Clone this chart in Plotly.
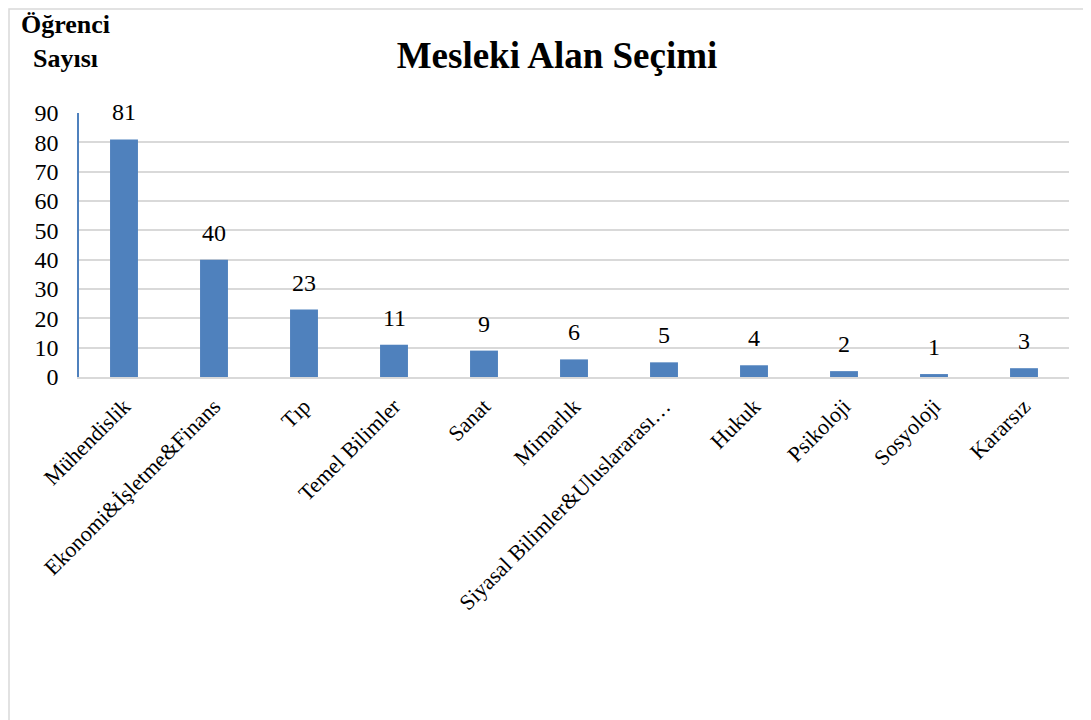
import plotly.graph_objects as go

categories = ["Mühendislik", "Ekonomi&İşletme&Finans", "Tıp", "Temel Bilimler", "Sanat",
              "Mimarlık", "Siyasal Bilimler&Uluslararası…", "Hukuk", "Psikoloji",
              "Sosyoloji", "Kararsız"]
counts = [81, 40, 23, 11, 9, 6, 5, 4, 2, 1, 3]
y_ticks = [0, 10, 20, 30, 40, 50, 60, 70, 80, 90]

# the page body adds an 8px margin, so the figure itself is a bit smaller
OFF = 8
W, H = 1091 - OFF, 720 - OFF
L, R, T, B = 79 - OFF, 22, 113 - OFF, 343
pw, ph = W - L - R, H - T - B
serif = "Liberation Serif"

fig = go.Figure(go.Bar(
    x=categories, y=counts,
    marker=dict(color="#4F81BD", line=dict(width=0)),
    cliponaxis=False,
))

# value labels floating a bit above each bar, like Excel does
labels = [dict(x=c, y=v, text=str(v), xref="x", yref="y", showarrow=False,
               yanchor="bottom", yshift=12,
               font=dict(family=serif, size=24, color="#000000"))
          for c, v in zip(categories, counts)]

labels.append(dict(text="<b>Öğrenci<br>Sayısı</b>", xref="paper", yref="paper",
                   x=(65 - OFF - L) / pw, y=1 + (T - 42 + OFF) / ph, xanchor="center",
                   yanchor="middle", align="center", showarrow=False,
                   font=dict(family=serif, size=26, color="#000000")))

fig.update_layout(
    width=W, height=H,
    margin=dict(l=L, r=R, t=T, b=B),
    paper_bgcolor="white", plot_bgcolor="white",
    bargap=0.69,
    showlegend=False,
    font=dict(family=serif, color="#000000"),
    title=dict(text="<b>Mesleki Alan Seçimi</b>", x=(557 - OFF) / W, xanchor="center",
               y=1 - (55 - OFF) / H, yanchor="middle",
               font=dict(family=serif, size=37, color="#000000")),
    xaxis=dict(tickangle=-45, tickfont=dict(family=serif, size=22),
               showline=True, linecolor="#D9D9D9", linewidth=1.5, ticks="",
               showgrid=False, automargin=False, ticklabelstandoff=6),
    yaxis=dict(range=[0, 90], tickvals=y_ticks, tickfont=dict(family=serif, size=24),
               showline=True, linecolor="#4F81BD", linewidth=1.5,
               gridcolor="#D9D9D9", gridwidth=1.5, ticks="", zeroline=False,
               automargin=False, ticklabelstandoff=14),
    annotations=labels,
    shapes=[dict(type="rect", xref="paper", yref="paper",
                 x0=(1 - L) / pw, x1=(1088 - OFF - L) / pw,
                 y0=-(B + 5) / ph, y1=1 + (T - 1) / ph,
                 line=dict(color="#D9D9D9", width=1.5), fillcolor="rgba(0,0,0,0)")],
)

fig.write_html("out.html")
